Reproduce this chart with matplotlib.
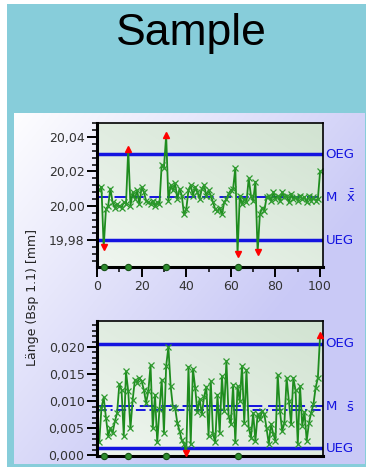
import numpy as np
import matplotlib
matplotlib.use('Agg')
import matplotlib.pyplot as plt
from matplotlib.patches import Rectangle
from matplotlib.ticker import FixedLocator, MultipleLocator, FuncFormatter

plt.rcParams['font.family'] = ['DejaVu Sans']
plt.rcParams['mathtext.fontset'] = 'dejavusans'

# ---------------- data ----------------
samples = np.arange(1, 101)
xbar = [20.009, 20.011, 19.976, 19.998, 20.000, 20.010, 20.002, 19.999, 20.001, 20.000,
        19.999, 20.002, 20.001, 20.033, 20.000, 20.008, 20.004, 20.009, 20.001, 20.011,
        20.008, 20.003, 20.002, 20.001, 20.003, 20.000, 20.002, 20.001, 20.024, 20.022,
        20.041, 20.003, 20.012, 20.009, 20.013, 20.004, 20.010, 20.006, 19.995, 19.998,
        20.009, 20.012, 20.006, 20.011, 20.008, 20.004, 20.010, 20.012, 20.006, 20.009,
        20.006, 20.002, 19.998, 19.997, 19.999, 19.995, 20.002, 20.004, 20.007, 20.009,
        20.010, 20.022, 19.972, 20.006, 20.001, 20.004, 20.002, 20.016, 20.006, 20.003,
        20.014, 19.973, 19.995, 19.999, 19.997, 20.005, 20.006, 20.003, 20.008, 20.004,
        20.006, 20.003, 20.008, 20.005, 20.006, 20.002, 20.007, 20.004, 20.005, 20.003,
        20.006, 20.004, 20.005, 20.002, 20.006, 20.003, 20.005, 20.003, 20.004, 20.020]
s_vals = [0.0024, 0.0088, 0.0107, 0.0070, 0.0036, 0.0050, 0.0042, 0.0063, 0.0078, 0.0131,
          0.0121, 0.0036, 0.0155, 0.0118, 0.0050, 0.0103, 0.0140, 0.0134, 0.0143, 0.0137,
          0.0121, 0.0097, 0.0118, 0.0166, 0.0050, 0.0112, 0.0024, 0.0085, 0.0140, 0.0042,
          0.0165, 0.0200, 0.0128, 0.0090, 0.0088, 0.0060, 0.0045, 0.0028, 0.0021, 0.0004,
          0.0163, 0.0021, 0.0160, 0.0125, 0.0080, 0.0104, 0.0076, 0.0108, 0.0127, 0.0036,
          0.0137, 0.0040, 0.0024, 0.0112, 0.0042, 0.0146, 0.0082, 0.0174, 0.0072, 0.0058,
          0.0130, 0.0024, 0.0128, 0.0100, 0.0165, 0.0060, 0.0158, 0.0051, 0.0033, 0.0078,
          0.0027, 0.0076, 0.0067, 0.0082, 0.0076, 0.0050, 0.0021, 0.0058, 0.0040, 0.0027,
          0.0149, 0.0082, 0.0045, 0.0060, 0.0143, 0.0100, 0.0058, 0.0143, 0.0120, 0.0021,
          0.0128, 0.0055, 0.0080, 0.0027, 0.0060, 0.0079, 0.0094, 0.0125, 0.0143, 0.0222]
xbar_oeg, xbar_ueg, xbar_mean = 20.03, 19.98, 20.005
s_oeg, s_ueg, s_mean_a, s_mean_b = 0.0206, 0.0013, 0.0091, 0.0084
alarm_x = [3, 14, 31, 63]
xticks = [0, 20, 40, 60, 80, 100]
xbar_ticks = [19.98, 20.00, 20.02, 20.04]
s_ticks = [0.000, 0.005, 0.010, 0.015, 0.020]
title = 'Sample'
ylabel = 'Länge (Bsp 1.1) [mm]'

# ---------------- figure ----------------
W, H = 366, 467
fig = plt.figure(figsize=(W / 100, H / 100), dpi=100)
fig.patch.set_facecolor('white')
teal = Rectangle((7 / W, 0), 1 - 7 / W, 1 - 4 / H, transform=fig.transFigure,
                 facecolor='#87CDDA', edgecolor='none', zorder=-5)
fig.add_artist(teal)

# gradient panel
bg = fig.add_axes([14 / W, 3 / H, 351 / W, 351 / H])
bg.set_zorder(-1)
u = np.linspace(0, 1, 120)[None, :]
v = np.linspace(0, 1, 120)[:, None]
t = np.clip(0.8 * u + 0.65 * v + 0.03, 0, 1)[..., None]
white = np.array([1.0, 1.0, 1.0])
lav = np.array([0.79, 0.79, 0.965])
img = white * (1 - t) + lav * t
bg.imshow(img, aspect='auto', extent=(0, 1, 0, 1), interpolation='bilinear')
bg.set_xlim(0, 1)
bg.set_ylim(0, 1)
bg.set_axis_off()

fig.text(191 / W, 1 - 34 / H, title, ha='center', va='center', fontsize=32,
         family='Liberation Sans', color='black')
fig.text(33 / W, 1 - 297 / H, ylabel, rotation=90, ha='center', va='center',
         fontsize=9, color='#222222', zorder=5)

BLUE = '#1414E0'
GREEN_L = '#1E8C1E'
GREEN_M = '#2E9A2E'


def face(ax):
    uu = np.linspace(0, 1, 60)[None, :]
    vv = np.linspace(0, 1, 60)[:, None]
    tt = np.clip(0.5 * uu + 0.5 * (1 - vv), 0, 1)[..., None]
    c0 = np.array([0.94, 0.965, 0.94])
    c1 = np.array([0.82, 0.89, 0.82])
    ax.imshow(c0 * (1 - tt) + c1 * tt, aspect='auto', extent=(0, 1, 0, 1),
              transform=ax.transAxes, zorder=0, interpolation='bilinear')


def style(ax):
    for side in ['left', 'bottom']:
        ax.spines[side].set_linewidth(2.2)
    for side in ['top', 'right']:
        ax.spines[side].set_linewidth(1.2)
    for sp in ax.spines.values():
        sp.set_color('black')
        sp.set_zorder(6)
    ax.tick_params(which='major', direction='out', length=7, width=1.4,
                   labelsize=9, labelcolor='#333333', pad=2)
    ax.tick_params(which='minor', direction='out', length=3.5, width=1.1)


def series(ax, x, y, hi, lo, ylo):
    x = np.asarray(x)
    y = np.asarray(y)
    normal = ~((y > hi) | (y < lo))
    ax.plot(x, y, color=GREEN_L, lw=1.3, zorder=3)
    ax.plot(x[normal], y[normal], ls='none', marker='x', ms=4.5, mew=0.9,
            color=GREEN_M, zorder=4)
    up = y > hi
    dn = y < lo
    ax.plot(x[up], y[up], ls='none', marker='^', ms=5, color='red',
            clip_on=False, zorder=7)
    ax.plot(x[dn], y[dn], ls='none', marker='v', ms=5, color='red',
            clip_on=False, zorder=7)
    ax.plot(alarm_x, [ylo] * len(alarm_x), ls='none', marker='o', ms=4.5,
            mfc='#2E8B2E', mec='#145014', mew=0.8, clip_on=False, zorder=8)


# ---------- top chart ----------
ax1 = fig.add_axes([97 / W, 1 - 267 / H, 226 / W, 144 / H])
ax1.set_zorder(2)
face(ax1)
ylo1 = 19.9645
ax1.set_xlim(0, 101.3)
ax1.set_ylim(ylo1, 20.0481)
ax1.axhline(xbar_oeg, color=BLUE, lw=2.5, zorder=2)
ax1.axhline(xbar_ueg, color=BLUE, lw=2.5, zorder=2)
ax1.axhline(xbar_mean, color=BLUE, lw=1.4, ls=(0, (6, 3)), zorder=2)
series(ax1, samples, xbar, xbar_oeg, xbar_ueg, ylo1)
ax1.xaxis.set_major_locator(FixedLocator(xticks))
ax1.xaxis.set_minor_locator(MultipleLocator(10))
ax1.yaxis.set_major_locator(FixedLocator(xbar_ticks))
ax1.yaxis.set_minor_locator(MultipleLocator(0.004))
ax1.yaxis.set_major_formatter(FuncFormatter(lambda val, p: f'{val:.2f}'.replace('.', ',')))
style(ax1)
tr1 = ax1.get_yaxis_transform()
ax1.text(1.012, xbar_oeg, 'OEG', transform=tr1, color=BLUE, va='center', fontsize=9.5)
ax1.text(1.012, xbar_ueg, 'UEG', transform=tr1, color=BLUE, va='center', fontsize=9.5)
ax1.text(1.012, xbar_mean, 'M', transform=tr1, color=BLUE, va='center', fontsize=9.5)
ax1.text(1.10, xbar_mean, r'$\bar{\bar{\mathrm{x}}}$', transform=tr1, color=BLUE,
         va='center', fontsize=9.5)

# ---------- bottom chart ----------
ax2 = fig.add_axes([97 / W, 1 - 456 / H, 226 / W, 135 / H])
ax2.set_zorder(2)
face(ax2)
ylo2 = -0.0001
ax2.set_xlim(0, 101.3)
ax2.set_ylim(ylo2, 0.0248)
ax2.axhline(s_oeg, color=BLUE, lw=2.5, zorder=2)
ax2.axhline(s_ueg, color=BLUE, lw=2.5, zorder=2)
ax2.axhline(s_mean_a, color=BLUE, lw=1.4, ls=(0, (8, 3)), zorder=2)
ax2.axhline(s_mean_b, color=BLUE, lw=1.4, ls=(0, (5, 2, 1, 2)), zorder=2)
series(ax2, samples, s_vals, s_oeg, s_ueg, ylo2)
ax2.yaxis.set_major_locator(FixedLocator(s_ticks))
ax2.yaxis.set_minor_locator(MultipleLocator(0.001))
ax2.yaxis.set_major_formatter(FuncFormatter(lambda val, p: f'{val:.3f}'.replace('.', ',')))
style(ax2)
ax2.tick_params(axis='x', which='both', length=0, labelbottom=False)
tr2 = ax2.get_yaxis_transform()
ax2.text(1.012, s_oeg, 'OEG', transform=tr2, color=BLUE, va='center', fontsize=9.5)
ax2.text(1.012, s_ueg, 'UEG', transform=tr2, color=BLUE, va='center', fontsize=9.5)
ax2.text(1.012, s_mean_a, 'M', transform=tr2, color=BLUE, va='center', fontsize=9.5)
ax2.text(1.10, (s_mean_a + s_mean_b) / 2, r'$\bar{\mathrm{s}}$', transform=tr2,
         color=BLUE, va='center', fontsize=9.5)

fig.savefig('out.png', dpi=100)
